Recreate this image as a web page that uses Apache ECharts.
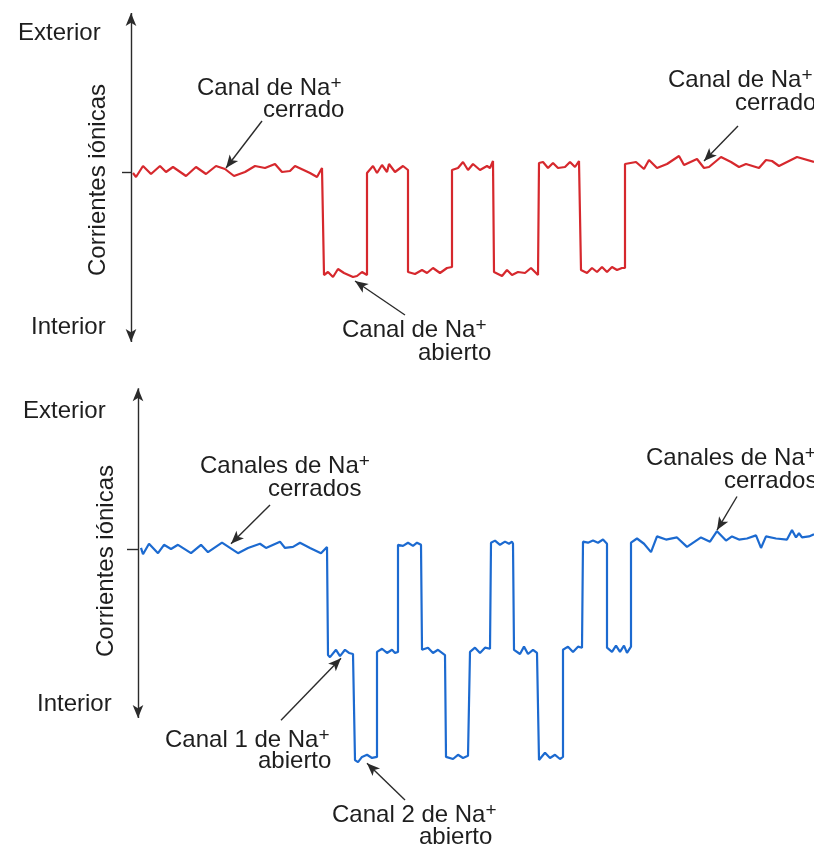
<!DOCTYPE html>
<html>
<head>
<meta charset="utf-8">
<script src="https://cdn.jsdelivr.net/npm/echarts@6/dist/echarts.min.js"></script>
<style>
  html, body { margin: 0; padding: 0; background: #ffffff; }
  #chart { width: 814px; height: 848px; }
</style>
</head>
<body>
<div id="chart"></div>
<script>
// Single-channel recording: [time, current] with closed level = 0, one open channel = -1
const singleChannelTrace = [
  [2,-0.01],[5,-0.05],[12,0.06],[20,-0.02],[29,0.06],[35,0],[42,0.05],[55,-0.04],[65,0.05],[75,-0.02],
  [85,0.06],[94,0.03],[103,-0.04],[114,0],[124,0.06],[134,0.04],[144,0.08],[151,0],[159,0.01],[164,0.06],
  [179,-0.01],[186,-0.05],[191,0.04],
  [193,-1.03],[197,-1.00],[202,-1.05],[207,-0.97],[213,-1.01],[222,-1.05],[226,-1.04],[231,-1.00],[236,-1.03],
  [236,-0.01],[242,0.06],[246,-0.01],[251,0.07],[256,0],[258,0.08],[264,0],[272,0.06],[277,0.02],
  [277,-1.00],[284,-1.02],[291,-0.98],[296,-1.01],[302,-0.96],[309,-1.01],[316,-0.96],[321,-0.95],
  [321,0.02],[327,0.04],[332,0.10],[337,0.02],[342,0.08],[349,0.02],[356,0.06],[359,0.04],[362,0.11],
  [363,-1.00],[371,-1.04],[376,-0.98],[381,-1.03],[387,-1.00],[394,-1.01],[400,-0.96],[407,-1.03],
  [408,0.09],[412,0.10],[417,0.04],[422,0.09],[427,0.04],[434,0.05],[439,0.10],[444,0.05],[448,0.11],
  [450,-0.98],[456,-1.01],[461,-0.96],[466,-1.00],[471,-0.95],[476,-1.00],[481,-0.95],[486,-0.98],[491,-0.96],[494,-0.96],
  [494,0.08],[505,0.10],[513,0.03],[518,0.12],[526,0.04],[536,0.08],[548,0.16],[553,0.07],[566,0.13],[573,0.04],
  [578,0.05],[590,0.15],[600,0.10],[608,0.05],[615,0.08],[628,0.04],[635,0.12],[641,0.11],[648,0.06],[666,0.15],[683,0.10]
];

// Two-channel recording: levels 0 (both closed), -1 (one open), -2 (both open)
const doubleChannelTrace = [
  [3,0.01],[5,-0.05],[11,0.05],[20,-0.04],[26,0.04],[33,0],[40,0.04],[53,-0.04],[63,0.04],[70,-0.03],
  [84,0.06],[100,-0.04],[110,0.01],[122,0.05],[128,0.01],[142,0.07],[147,0.01],[155,0.02],[162,0.06],[172,0.01],
  [183,-0.04],[189,0.02],
  [190,-1.01],[192,-1.03],[198,-0.96],[202,-1.02],[207,-0.96],[211,-0.99],[215,-1.00],
  [217,-2.01],[220,-2.03],[224,-1.98],[229,-1.96],[234,-1.99],[239,-1.98],
  [239,-0.98],[244,-0.95],[249,-0.99],[254,-0.96],[257,-0.99],[260,-0.98],
  [260,0.04],[265,0.03],[270,0.06],[275,0.03],[279,0.06],[283,0.04],
  [284,-0.96],[290,-0.94],[295,-0.99],[300,-0.96],[307,-1.01],
  [308,-1.98],[315,-2.00],[320,-1.96],[325,-1.99],[330,-1.97],[332,-1.98],
  [332,-0.98],[337,-0.94],[342,-0.99],[347,-0.94],[352,-0.95],
  [353,0.06],[357,0.08],[362,0.04],[367,0.07],[371,0.05],[374,0.07],[375,0.05],
  [376,-0.96],[382,-1.00],[386,-0.93],[390,-1.00],[395,-0.96],[399,-0.99],[400,-0.99],
  [401,-2.01],[407,-1.94],[412,-1.99],[417,-1.96],[422,-2.00],[425,-1.98],
  [425,-0.96],[430,-0.93],[435,-0.98],[440,-0.93],[444,-0.94],[445,-0.94],
  [445,0.07],[450,0.06],[455,0.08],[460,0.06],[465,0.09],[469,0.05],
  [469,-0.94],[474,-0.98],[478,-0.92],[482,-0.98],[486,-0.92],[489,-0.99],[493,-0.93],
  [493,0.06],[499,0.10],[506,0.05],[513,-0.03],[519,0.12],[528,0.09],[539,0.11],[549,0.02],[563,0.11],[572,0.07],
  [579,0.17],[588,0.08],[594,0.12],[601,0.09],[609,0.10],[618,0.13],[623,0.01],[628,0.12],[638,0.10],[649,0.09],
  [654,0.18],[658,0.11],[661,0.15],[664,0.11],[671,0.12],[676,0.14]
];

// Ends of the vertical current axis (exterior at top, interior at bottom)
const singleAxisEnds = [1.59, -1.70];
const doubleAxisEnds = [1.53, -1.61];

// Pointer arrows: [from, to] in [time, current]
const singlePointers = [
  [[131, 0.51], [95, 0.04]],
  [[607, 0.46], [573, 0.11]],
  [[274, -1.43], [224, -1.09]]
];
const doublePointers = [
  [[132, 0.42], [93, 0.05]],
  [[599, 0.50], [579, 0.18]],
  [[143, -1.63], [203, -1.04]],
  [[267, -2.39], [229, -2.04]]
];

const FONT = '"Liberation Sans", Arial, Helvetica, sans-serif';
const TEXT_COLOR = '#1e1e1e';
const AXIS_COLOR = '#2b2b2b';

function axisMarks(ends, pointers, tickStart) {
  const items = [
    [{ coord: [0, ends[0]], symbol: 'arrow' }, { coord: [0, ends[1]], symbol: 'arrow' }],
    [{ coord: [tickStart, 0], symbol: 'none' }, { coord: [0, 0], symbol: 'none' }]
  ];
  pointers.forEach(p => {
    items.push([{ coord: p[0], symbol: 'none' }, { coord: p[1], symbol: 'arrow' }]);
  });
  return {
    silent: true,
    animation: false,
    symbolSize: [8, 13],
    label: { show: false },
    emphasis: { disabled: true },
    lineStyle: { color: AXIS_COLOR, width: 1.4, type: 'solid' },
    data: items
  };
}

const rich = {
  n: { fontFamily: FONT, fontSize: 24, lineHeight: 28, color: TEXT_COLOR },
  sup: { fontFamily: FONT, fontSize: 19, lineHeight: 18, color: TEXT_COLOR, verticalAlign: 'top' }
};

function label(text, x, y) {
  return {
    type: 'text', x: x, y: y, silent: true,
    style: {
      text: text, rich: rich, fontFamily: FONT, fontSize: 24, fill: TEXT_COLOR,
      align: 'left', verticalAlign: 'middle'
    }
  };
}

function axisName(x, y) {
  return {
    type: 'text', x: x, y: y, rotation: Math.PI / 2, silent: true,
    style: {
      text: 'Corrientes iónicas', fontFamily: FONT, fontSize: 24, fill: TEXT_COLOR,
      align: 'center', verticalAlign: 'middle'
    }
  };
}

const chart = echarts.init(document.getElementById('chart'), null, { renderer: 'canvas' });

chart.setOption({
  animation: false,
  backgroundColor: '#ffffff',
  grid: [
    { left: 111, top: 2, width: 703, height: 350 },
    { left: 118, top: 381, width: 696, height: 430.5 }
  ],
  xAxis: [
    { gridIndex: 0, type: 'value', min: -20, max: 683, show: false },
    { gridIndex: 1, type: 'value', min: -20, max: 676, show: false }
  ],
  yAxis: [
    { gridIndex: 0, type: 'value', min: -1.8, max: 1.7, show: false },
    { gridIndex: 1, type: 'value', min: -2.5, max: 1.6, show: false }
  ],
  series: [
    {
      type: 'line', xAxisIndex: 0, yAxisIndex: 0,
      data: singleChannelTrace, symbol: 'none', silent: true,
      lineStyle: { color: '#d6282d', width: 2.2 },
      markLine: axisMarks(singleAxisEnds, singlePointers, -9)
    },
    {
      type: 'line', xAxisIndex: 1, yAxisIndex: 1,
      data: doubleChannelTrace, symbol: 'none', silent: true,
      lineStyle: { color: '#1c6ad0', width: 2.2 },
      markLine: axisMarks(doubleAxisEnds, doublePointers, -11)
    }
  ],
  graphic: [
    label('{n|Exterior}', 18, 33),
    label('{n|Interior}', 31, 327),
    axisName(98, 180),
    label('{n|Canal de Na}{sup|+}', 197, 88),
    label('{n|cerrado}', 263, 110),
    label('{n|Canal de Na}{sup|+}', 668, 80),
    label('{n|cerrado}', 735, 103),
    label('{n|Canal de Na}{sup|+}', 342, 330),
    label('{n|abierto}', 418, 353),

    label('{n|Exterior}', 23, 411),
    label('{n|Interior}', 37, 704),
    axisName(106, 561),
    label('{n|Canales de Na}{sup|+}', 200, 466),
    label('{n|cerrados}', 268, 489),
    label('{n|Canales de Na}{sup|+}', 646, 458),
    label('{n|cerrados}', 724, 481),
    label('{n|Canal 1 de Na}{sup|+}', 165, 740),
    label('{n|abierto}', 258, 761),
    label('{n|Canal 2 de Na}{sup|+}', 332, 815),
    label('{n|abierto}', 419, 837)
  ]
});
</script>
</body>
</html>
